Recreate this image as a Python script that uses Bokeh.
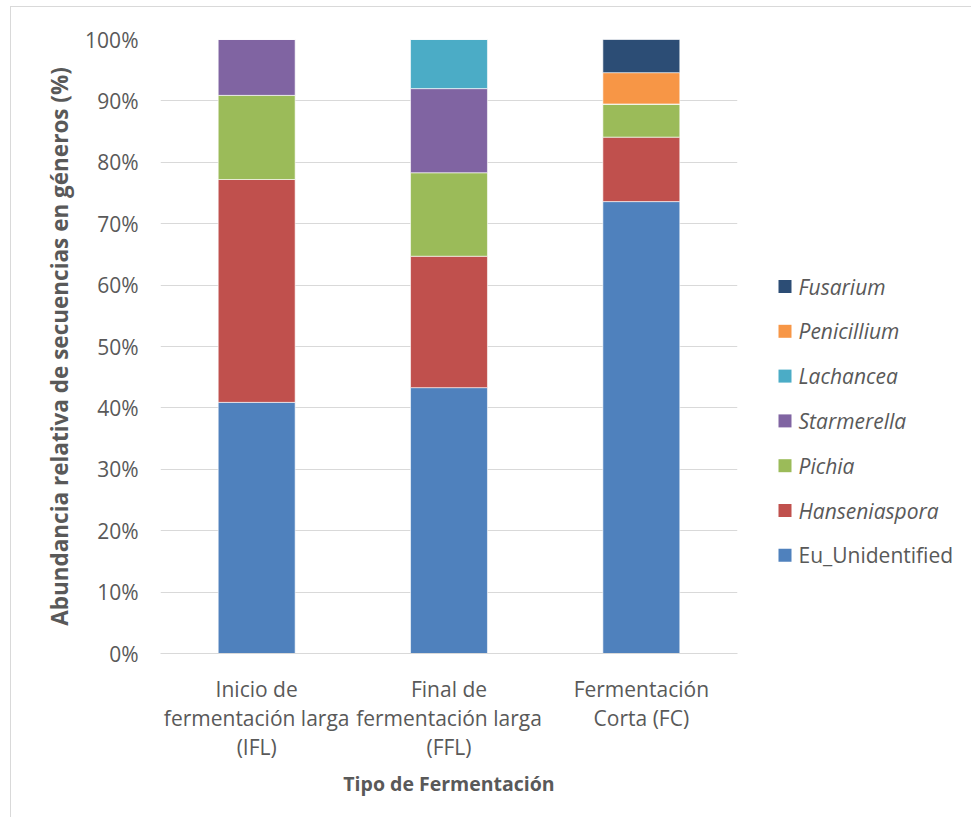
from bokeh.plotting import figure
from bokeh.layouts import row
from bokeh.models import (ColumnDataSource, FixedTicker, PrintfTickFormatter,
                          FactorRange, Range1d)
from bokeh.core.properties import value
from bokeh.embed import file_html
from bokeh.resources import INLINE

categories = ["Inicio de\nfermentación larga\n(IFL)",
              "Final de\nfermentación larga\n(FFL)",
              "Fermentación\nCorta (FC)"]
genera = ["Eu_Unidentified", "Hanseniaspora", "Pichia", "Starmerella",
          "Lachancea", "Penicillium", "Fusarium"]
eu_unidentified = [40.9, 43.3, 73.6]
hanseniaspora = [36.3, 21.4, 10.5]
pichia = [13.7, 13.6, 5.4]
starmerella = [9.1, 13.7, 0.0]
lachancea = [0.0, 8.0, 0.0]
penicillium = [0.0, 0.0, 5.1]
fusarium = [0.0, 0.0, 5.4]
colors = ["#4F81BD", "#C0504D", "#9BBB59", "#8064A2", "#4BACC6", "#F79646", "#2C4D75"]
label_styles = ["normal", "italic", "italic", "italic", "italic", "italic", "italic"]
y_ticks = [0, 10, 20, 30, 40, 50, 60, 70, 80, 90, 100]

source = ColumnDataSource(dict(
    cat=categories,
    Eu_Unidentified=eu_unidentified,
    Hanseniaspora=hanseniaspora,
    Pichia=pichia,
    Starmerella=starmerella,
    Lachancea=lachancea,
    Penicillium=penicillium,
    Fusarium=fusarium,
))

FONT = "Open Sans"
TXT = "#595959"
H = 810
FH = 614

p = figure(x_range=FactorRange(*categories), y_range=Range1d(0, 100),
           width=746, height=H, frame_width=577, frame_height=FH,
           output_backend="svg", toolbar_location=None,
           min_border_left=149, min_border_top=32, min_border_right=20,
           min_border_bottom=164)
p.outline_line_color = None
p.background_fill_color = "white"
p.border_fill_color = "white"

renderers = p.vbar_stack(genera, x="cat", width=0.4, source=source,
                         color=colors, line_color="white", line_width=0.6)

p.xgrid.grid_line_color = None
p.ygrid.grid_line_color = "#d9d9d9"
p.ygrid.grid_line_width = 1

p.yaxis.ticker = FixedTicker(ticks=y_ticks)
p.yaxis.formatter = PrintfTickFormatter(format="%d%%")
p.yaxis.axis_line_color = None
p.yaxis.major_tick_line_color = None
p.yaxis.minor_tick_line_color = None
p.yaxis.major_label_standoff = 16
p.yaxis.major_label_text_font = FONT
p.yaxis.major_label_text_font_size = "21px"
p.yaxis.major_label_text_color = TXT
p.yaxis.axis_label = "Abundancia relativa de secuencias en géneros (%)"
p.yaxis.axis_label_text_font = FONT
p.yaxis.axis_label_text_font_style = "bold"
p.yaxis.axis_label_text_font_size = "22.5px"
p.yaxis.axis_label_text_color = TXT
p.yaxis.axis_label_standoff = 7

p.xaxis.axis_line_color = "#d9d9d9"
p.xaxis.major_tick_line_color = None
p.xaxis.minor_tick_line_color = None
p.xaxis.major_label_standoff = 15
p.xaxis.major_label_text_font = FONT
p.xaxis.major_label_text_font_size = "21px"
p.xaxis.major_label_text_color = TXT
p.xaxis.major_label_text_line_height = 1.04
p.xaxis.axis_label = "Tipo de Fermentación"
p.xaxis.axis_label_text_font = FONT
p.xaxis.axis_label_text_font_style = "bold"
p.xaxis.axis_label_text_font_size = "19.5px"
p.xaxis.axis_label_text_color = TXT
p.xaxis.axis_label_standoff = 6

# legend panel (key drawn in its own pixel-scaled figure, frame aligned with the chart's)
QW = 214
q = figure(width=QW, height=H, frame_height=FH,
           x_range=Range1d(0, QW), y_range=Range1d(FH, 0),
           output_backend="svg", toolbar_location=None,
           x_axis_type=None, y_axis_type=None,
           min_border_left=0, min_border_right=0,
           min_border_top=32, min_border_bottom=164)
q.outline_line_color = None
q.xgrid.grid_line_color = None
q.ygrid.grid_line_color = None
q.background_fill_color = "white"
q.border_fill_color = "white"

top_y, step, glyph_x, text_x = 247.0, 44.8, 27.5, 41.0
order = list(range(len(genera) - 1, -1, -1))
leg_src = ColumnDataSource(dict(
    name=[genera[i] for i in order],
    color=[colors[i] for i in order],
    style=[label_styles[i] for i in order],
    y=[top_y + k * step for k in range(len(order))],
    gx=[glyph_x] * len(order),
    tx=[text_x] * len(order),
))
q.scatter(x="gx", y="y", marker="square", size=13, color="color",
          line_color=None, source=leg_src)
q.text(x="tx", y="y", text="name", text_font=value(FONT),
       text_font_size=value("21px"), text_font_style="style",
       text_color=TXT, text_baseline="middle", text_align="left", source=leg_src)

layout = row(p, q)
layout.margin = (6, 0, 0, 10)
layout.styles = {"border-left": "1px solid #d9d9d9", "border-top": "1px solid #d9d9d9"}

open("out.html", "w").write(file_html(layout, INLINE))
